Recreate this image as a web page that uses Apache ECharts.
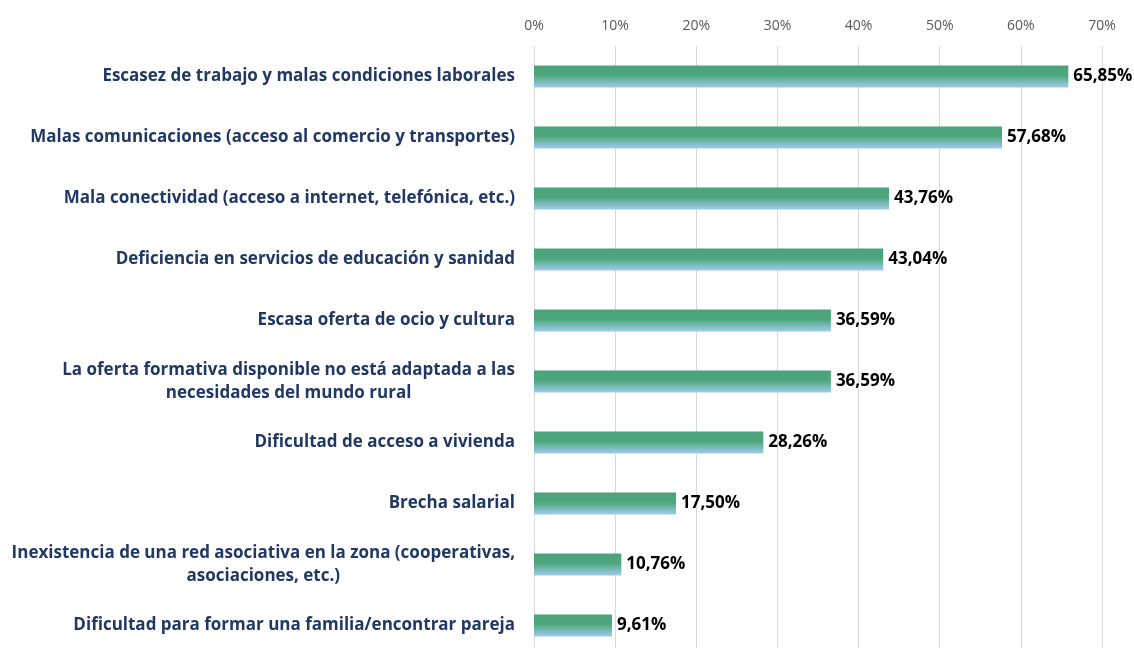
<!DOCTYPE html>
<html>
<head>
<meta charset="utf-8">
<script src="https://cdn.jsdelivr.net/npm/echarts@6/dist/echarts.min.js"></script>
<style>
  html, body { margin: 0; padding: 0; background: #fff; }
  #chart { width: 1134px; height: 648px; }
</style>
</head>
<body>
<div id="chart"></div>
<script>
const categories = [
  'Escasez de trabajo y malas condiciones laborales',
  'Malas comunicaciones (acceso al comercio y transportes)',
  'Mala conectividad (acceso a internet, telefónica, etc.)',
  'Deficiencia en servicios de educación y sanidad',
  'Escasa oferta de ocio y cultura',
  'La oferta formativa disponible no está adaptada a las\nnecesidades del mundo rural',
  'Dificultad de acceso a vivienda',
  'Brecha salarial',
  'Inexistencia de una red asociativa en la zona (cooperativas,\nasociaciones, etc.)',
  'Dificultad para formar una familia/encontrar pareja'
];
const values = [65.85, 57.68, 43.76, 43.04, 36.59, 36.59, 28.26, 17.50, 10.76, 9.61];
const tickMax = 70;
const tickStep = 10;

const chart = echarts.init(document.getElementById('chart'));

chart.setOption({
  animation: false,
  grid: { left: 534, right: 32, top: 46, height: 610, containLabel: false, outerBoundsMode: 'none' },
  xAxis: {
    type: 'value',
    position: 'top',
    min: 0,
    max: tickMax,
    interval: tickStep,
    axisLine: { show: false },
    axisTick: { show: false },
    axisLabel: {
      formatter: v => v + '%',
      color: '#595959',
      fontFamily: 'Open Sans',
      fontSize: 14,
      margin: 13
    },
    splitLine: { show: true, lineStyle: { color: '#d9d9d9', width: 1 } }
  },
  yAxis: {
    type: 'category',
    inverse: true,
    data: categories,
    axisLine: { show: false },
    axisTick: { show: false },
    axisLabel: {
      margin: 19,
      align: 'right',
      formatter: v => v.split('\n').map(s => '{c|' + s + '}').join('\n'),
      rich: {
        c: {
          align: 'center',
          color: '#203864',
          fontFamily: 'Open Sans',
          fontWeight: 'bold',
          fontSize: 17,
          lineHeight: 23
        }
      }
    }
  },
  series: [{
    type: 'bar',
    data: values,
    barWidth: 22,
    itemStyle: {
      color: new echarts.graphic.LinearGradient(0, 0, 0, 1, [
        { offset: 0, color: '#4aa379' },
        { offset: 0.45, color: '#4ea77c' },
        { offset: 1, color: '#a0cbef' }
      ])
    },
    label: {
      show: true,
      position: 'right',
      distance: 5,
      formatter: p => p.value.toFixed(2).replace('.', ',') + '%',
      color: '#000',
      fontFamily: 'Open Sans',
      fontWeight: 'bold',
      fontSize: 17
    }
  }]
});
</script>
</body>
</html>
